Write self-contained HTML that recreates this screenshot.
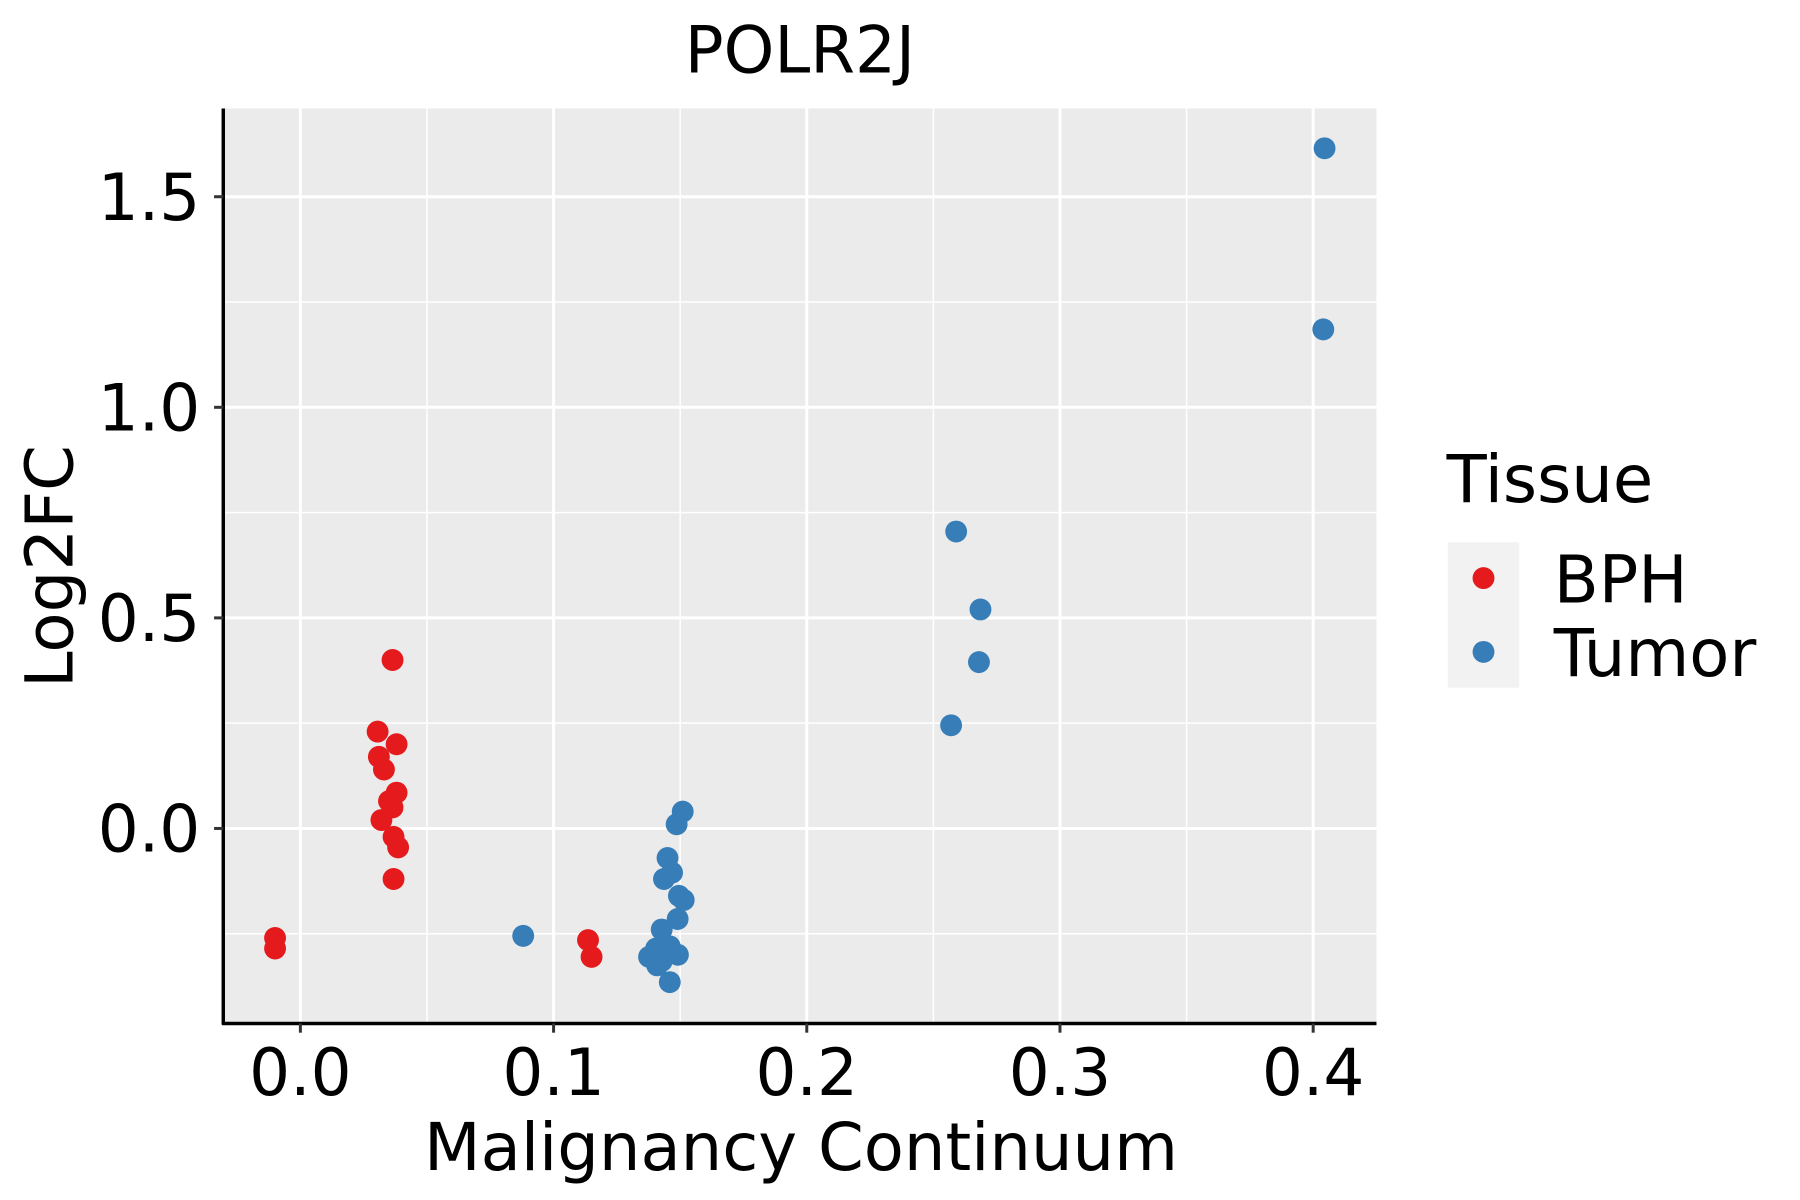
<!DOCTYPE html>
<html><head><meta charset="utf-8"><style>html,body{margin:0;padding:0;background:#fff}svg{display:block}</style></head>
<body>
<svg id="chart" width="1800" height="1200" viewBox="0 0 1564 1040" preserveAspectRatio="none" xmlns="http://www.w3.org/2000/svg" font-family="DejaVu Sans, Liberation Sans, sans-serif">
<rect width="1564" height="1040" fill="#fff"/>
<text x="695" y="63" font-size="56" text-anchor="middle" fill="#000">POLR2J</text>
<rect x="194" y="94" width="1002" height="793" fill="#ebebeb"/>
<g id="grid"></g>
<g id="points"></g>
<line x1="194" y1="94" x2="194" y2="888" stroke="#000" stroke-width="3"/>
<line x1="193" y1="887" x2="1196" y2="887" stroke="#000" stroke-width="3"/>
<g id="ticks"></g>
<text x="696" y="1014" font-size="57" text-anchor="middle" fill="#000">Malignancy Continuum</text>
<text transform="translate(63,491) rotate(-90)" font-size="57" text-anchor="middle" fill="#000">Log2FC</text>
<g>
<text x="1257" y="435" font-size="57" fill="#000">Tissue</text>
<rect x="1258" y="470" width="62" height="126" fill="#f2f2f2"/>
<circle cx="1289" cy="501" r="9.5" fill="#e41a1c"/>
<circle cx="1289" cy="565" r="9.5" fill="#377eb8"/>
<text x="1350" y="522" font-size="57" fill="#000">BPH</text>
<text x="1350" y="586" font-size="57" fill="#000">Tumor</text>
</g>
</svg>
<script>
const xTicks=[0.0,0.1,0.2,0.3,0.4];
const xTickLabels=["0.0","0.1","0.2","0.3","0.4"];
const yTicks=[0.0,0.5,1.0,1.5];
const yTickLabels=["0.0","0.5","1.0","1.5"];
const xMinor=[0.05,0.15,0.25,0.35];
const yMinor=[-0.25,0.25,0.75,1.25];
const bphX=[-0.010,-0.010,0.0364,0.0305,0.038,0.031,0.033,0.038,0.035,0.0364,0.032,0.0368,0.0386,0.0368,0.1136,0.115];
const bphY=[-0.26,-0.285,0.40,0.23,0.20,0.17,0.14,0.085,0.065,0.05,0.02,-0.02,-0.045,-0.12,-0.265,-0.305];
const tumorX=[0.088,0.4045,0.404,0.259,0.2686,0.268,0.257,0.151,0.1486,0.145,0.1468,0.1436,0.1495,0.1514,0.149,0.1427,0.1405,0.1377,0.1441,0.1491,0.1409,0.1459,0.1459,0.1427];
const tumorY=[-0.255,1.615,1.185,0.705,0.52,0.395,0.245,0.04,0.01,-0.07,-0.105,-0.12,-0.16,-0.17,-0.215,-0.24,-0.285,-0.305,-0.30,-0.30,-0.325,-0.365,-0.28,-0.315];
const NS="http://www.w3.org/2000/svg";
function xs(v){return 261+v*2200;}
function ys(v){return 718-v*365;}
function mk(tag,attrs,parent){const e=document.createElementNS(NS,tag);for(const k in attrs)e.setAttribute(k,attrs[k]);parent.appendChild(e);return e;}
const grid=document.getElementById('grid'),pts=document.getElementById('points'),ticks=document.getElementById('ticks');
xMinor.forEach(v=>{const l=mk('line',{x1:xs(v),x2:xs(v),y1:94,y2:887,stroke:'#fff','stroke-width':1.3},grid);

});
yMinor.forEach(v=>{const l=mk('line',{x1:194,x2:1196,y1:ys(v),y2:ys(v),stroke:'#fff','stroke-width':1.3},grid);

});
xTicks.forEach((v,i)=>{const l=mk('line',{x1:xs(v),x2:xs(v),y1:94,y2:887,stroke:'#fff','stroke-width':2.6},grid);


const t=mk('line',{x1:xs(v),x2:xs(v),y1:887,y2:895,stroke:'#333','stroke-width':2.6},ticks);


const tx=mk('text',{x:xs(v),y:949,'font-size':56,'text-anchor':'middle',fill:'#000'},ticks);tx.textContent=xTickLabels[i];

});
yTicks.forEach((v,i)=>{const l=mk('line',{x1:194,x2:1196,y1:ys(v),y2:ys(v),stroke:'#fff','stroke-width':2.6},grid);


const t=mk('line',{x1:186,x2:194,y1:ys(v),y2:ys(v),stroke:'#333','stroke-width':2.6},ticks);


const tx=mk('text',{x:174,y:ys(v)+20,'font-size':56,'text-anchor':'end',fill:'#000'},ticks);tx.textContent=yTickLabels[i];

});
bphX.forEach((v,i)=>{const c=mk('circle',{cx:xs(v),cy:ys(bphY[i]),r:9.5,fill:'#e41a1c'},pts);

});
tumorX.forEach((v,i)=>{const c=mk('circle',{cx:xs(v),cy:ys(tumorY[i]),r:9.5,fill:'#377eb8'},pts);

});
</script>
</body></html>
